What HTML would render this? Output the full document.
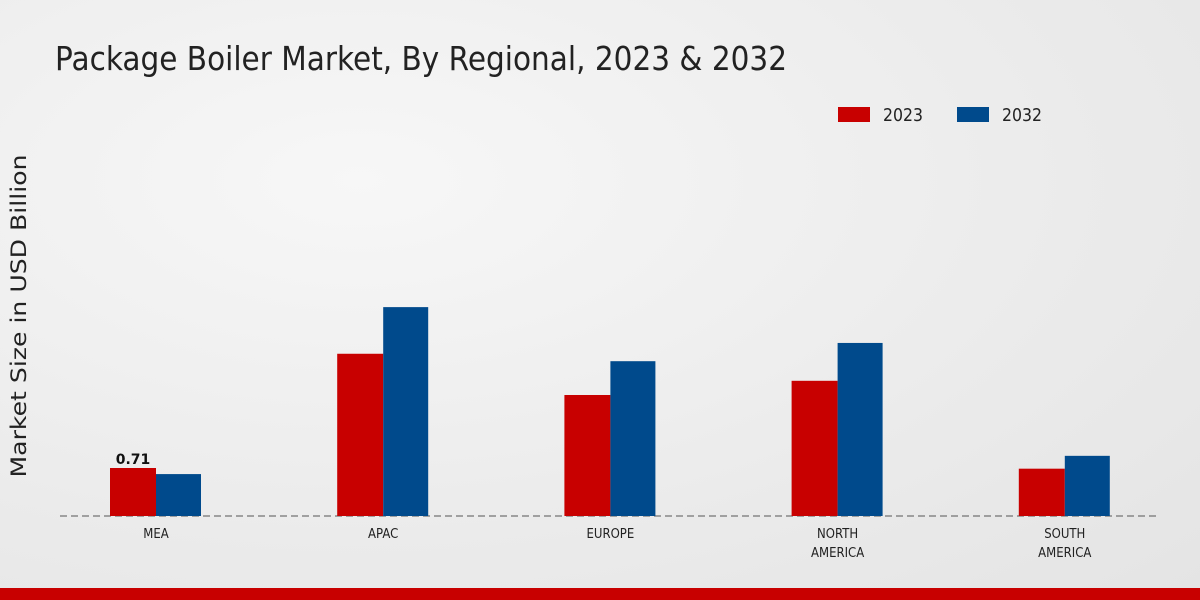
<!DOCTYPE html>
<html><head><meta charset="utf-8"><style>
body{margin:0;width:1200px;height:600px;overflow:hidden;font-family:"DejaVu Sans","Liberation Sans",sans-serif;}
#bg{position:absolute;left:0;top:0;width:1200px;height:600px;background:radial-gradient(ellipse at 30% 30%,#f7f7f7 0%,#ebebeb 60%,#e4e4e4 100%);}
</style></head><body>
<div id="bg"></div>
<svg id="chart" width="1200" height="600" style="position:absolute;left:0;top:0">
<text x="55" y="70" font-size="33" fill="#222" textLength="732" lengthAdjust="spacingAndGlyphs">Package Boiler Market, By Regional, 2023 &amp; 2032</text>
<text transform="translate(26,316) rotate(-90)" text-anchor="middle" font-size="21" fill="#222" textLength="323" lengthAdjust="spacingAndGlyphs">Market Size in USD Billion</text>
<g>
<rect x="838" y="107" width="32" height="15" fill="#c80000"></rect>
<text x="883" y="121" font-size="18" fill="#222" textLength="40" lengthAdjust="spacingAndGlyphs">2023</text>
<rect x="957" y="107" width="32" height="15" fill="#004a8c"></rect>
<text x="1002" y="121" font-size="18" fill="#222" textLength="40" lengthAdjust="spacingAndGlyphs">2032</text>
</g>
<line x1="60" y1="516" x2="1160" y2="516" stroke="#555" stroke-dasharray="7,4"></line>
<g id="bars"></g>
<rect x="0" y="588" width="1200" height="12" fill="#c80000"></rect>
</svg>
<script>
const categories=["MEA","APAC","EUROPE","NORTH\nAMERICA","SOUTH\nAMERICA"];
const values2023=[0.71,2.40,1.79,2.00,0.70];
const values2032=[0.62,3.09,2.29,2.56,0.89];
const labelled=[0.71,null,null,null,null];
const ns="http://www.w3.org/2000/svg";
const g=document.getElementById('bars');
const base=516, scale=67.6;
function xc(i){return 156+i*227.2;}
function yv(v){return base-v*scale;}
function mk(tag,attrs){const e=document.createElementNS(ns,tag);for(const k in attrs)e.setAttribute(k,attrs[k]);g.appendChild(e);return e;}
categories.forEach((c,i)=>{
  const r=mk('rect',{x:xc(i)-46,y:yv(values2023[i]),width:46,height:base-yv(values2023[i]),fill:'#c80000'});
  
  
  const b=mk('rect',{x:xc(i),y:yv(values2032[i]),width:45,height:base-yv(values2032[i]),fill:'#004a8c'});
  
  
  c.split('\n').forEach((ln,j)=>{
    const t=mk('text',{x:xc(i),y:538+j*19,'text-anchor':'middle','font-size':13,fill:'#222','transform':'translate('+(xc(i)*0.1)+',0) scale(0.9,1)'});
    t.textContent=ln;
    
    
  });
  if(labelled[i]!=null){
    const t=mk('text',{x:xc(i)-23,y:yv(values2023[i])-4,'text-anchor':'middle','font-size':14,'font-weight':'bold',fill:'#111'});
    t.textContent=labelled[i].toFixed(2);
    
    
  }
});
</script>
</body></html>
